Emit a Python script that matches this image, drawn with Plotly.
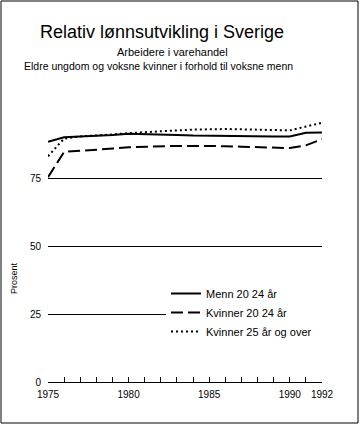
import plotly.graph_objects as go

years = list(range(1975, 1993))
menn_20_24 = [88.3, 90.0, 90.3, 90.5, 90.8, 91.3, 91.2, 91.0, 90.8, 90.6,
              90.5, 90.4, 90.4, 90.3, 90.3, 90.3, 91.6, 91.7]
kvinner_20_24 = [75.3, 84.6, 85.0, 85.3, 85.8, 86.3, 86.5, 86.6, 86.8, 86.8,
                 86.8, 86.7, 86.5, 86.3, 86.0, 86.0, 87.0, 89.3]
kvinner_25_over = [83.0, 89.5, 90.3, 90.6, 91.0, 91.5, 91.9, 92.2, 92.5, 92.8,
                   93.0, 93.0, 92.9, 92.8, 92.6, 92.5, 93.9, 95.3]
series_names = ["Menn 20 24 år", "Kvinner 20 24 år", "Kvinner 25 år og over"]
x_tick_labels = {1975: "1975", 1980: "1980", 1985: "1985", 1990: "1990", 1992: "1992"}
y_ticks = [0, 25, 50, 75]

FONT = "Liberation Sans, Arial, sans-serif"
W, H = 360, 425
L, R, T, B = 48, 38, 110, 43
PW, PH = W - L - R, H - T - B

def px_x(p):
    return (p - L) / PW

def px_y(p):
    return (H - B - p) / PH

fig = go.Figure()
fig.add_trace(go.Scatter(x=years, y=menn_20_24, name=series_names[0], mode="lines",
                         line=dict(color="black", width=2)))
fig.add_trace(go.Scatter(x=years, y=kvinner_20_24, name=series_names[1], mode="lines",
                         line=dict(color="black", width=2, dash="12px,5px")))
fig.add_trace(go.Scatter(x=years, y=kvinner_25_over, name=series_names[2], mode="lines",
                         line=dict(color="black", width=2, dash="2px,3px")))

fig.update_layout(
    width=W, height=H,
    margin=dict(l=L, r=R, t=T, b=B, pad=0),
    paper_bgcolor="white", plot_bgcolor="white",
    font=dict(family=FONT, color="black", size=10),
    showlegend=True,
    legend=dict(x=px_x(166), y=px_y(279), xanchor="left", yanchor="top",
                bgcolor="white", borderwidth=0, font=dict(size=11),
                itemwidth=30, tracegroupgap=0),
    xaxis=dict(range=[1975, 1992], tickvals=years,
               ticktext=[x_tick_labels.get(y, "") for y in years],
               ticks="inside", ticklen=5, tickcolor="black", tickwidth=1,
               showline=True, linecolor="black", linewidth=1,
               showgrid=False, zeroline=False, tickfont=dict(size=10),
               ticklabelstandoff=3),
    yaxis=dict(range=[0, 100], tickvals=y_ticks, showgrid=True,
               gridcolor="black", gridwidth=1, showline=False, zeroline=False,
               ticks="", tickfont=dict(size=10), ticklabelstandoff=6),
)

# white panel behind the legend hiding the gridline to the plot's right edge
fig.add_shape(type="rect", xref="paper", yref="paper",
              x0=px_x(166), x1=1.0, y0=px_y(345), y1=px_y(281),
              line=dict(width=0), fillcolor="white", layer="above")

fig.add_annotation(text="Relativ lønnsutvikling i Sverige", xref="paper", yref="paper",
                   x=px_x(162), y=px_y(32), showarrow=False, xanchor="center", yanchor="middle",
                   font=dict(size=18, family=FONT))
fig.add_annotation(text="Arbeidere i varehandel", xref="paper", yref="paper",
                   x=px_x(172), y=px_y(52), showarrow=False, xanchor="center", yanchor="middle",
                   font=dict(size=11, family=FONT))
fig.add_annotation(text="Eldre ungdom og voksne kvinner i forhold til voksne menn", xref="paper", yref="paper",
                   x=px_x(158), y=px_y(66), showarrow=False, xanchor="center", yanchor="middle",
                   font=dict(size=10.5, family=FONT))
fig.add_annotation(text="Prosent", xref="paper", yref="paper",
                   x=px_x(14), y=px_y(278), showarrow=False, textangle=-90,
                   xanchor="center", yanchor="middle", font=dict(size=9, family=FONT))

fig.add_shape(type="rect", xref="paper", yref="paper",
              x0=px_x(1), x1=px_x(358), y0=px_y(423), y1=px_y(1),
              line=dict(color="black", width=1), fillcolor="rgba(0,0,0,0)", layer="above")

fig.write_html("out.html", config={"displayModeBar": False},
               post_script="document.body.style.margin='0';document.body.style.overflow='hidden';")
